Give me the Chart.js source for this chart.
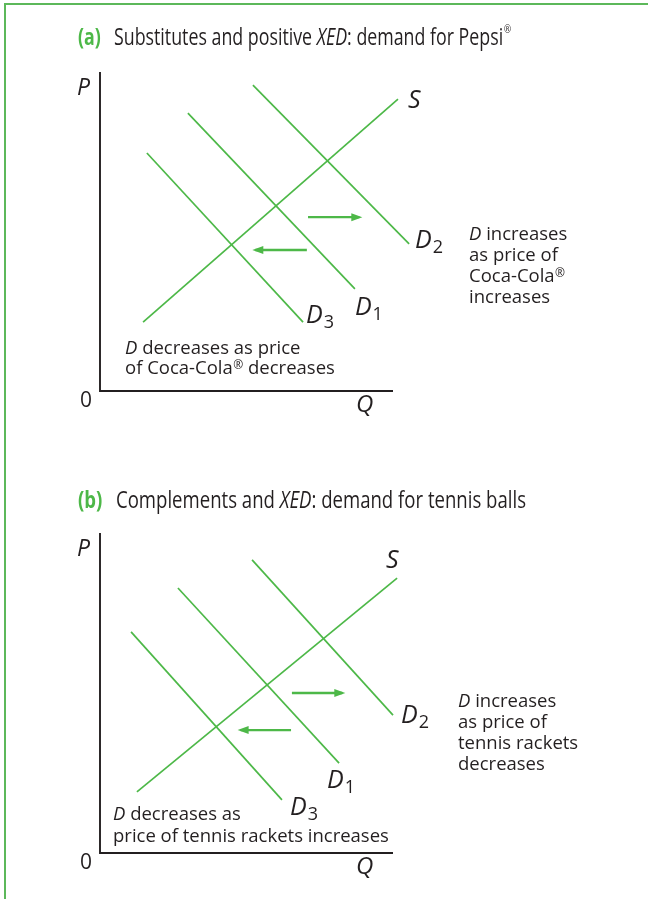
<!DOCTYPE html>
<html>
<head>
<meta charset="utf-8">
<script src="https://cdn.jsdelivr.net/npm/chart.js@4.4.1/dist/chart.umd.min.js"></script>
<style>
  html, body { margin: 0; padding: 0; background: #fff; }
  body { width: 648px; height: 899px; position: relative; overflow: hidden; }
  #frame { position: absolute; left: 4px; top: 3px; right: 0; bottom: 0;
           border-left: 2px solid #5cb85a; border-top: 2px solid #5cb85a; }
  canvas { position: absolute; left: 0; }
  #chartA { top: 0; }
  #chartB { top: 450px; }
</style>
</head>
<body>
<div id="frame"></div>
<canvas id="chartA" width="648" height="450"></canvas>
<canvas id="chartB" width="648" height="449"></canvas>
<script>
// axis ranges (same units for both diagrams)
const qMax = 10;
const pMax = 10;

// (a) substitutes: demand for Pepsi
const supplyQA = [1.47, 10.17];
const supplyPA = [2.16, 9.15];
const d1QA = [3.0, 8.7];
const d1PA = [8.71, 3.2];
const d2QA = [5.22, 10.55];
const d2PA = [9.59, 4.61];
const d3QA = [1.6, 6.93];
const d3PA = [7.46, 2.16];
const shiftRightQA = [7.1, 8.85];
const shiftRightPA = [5.45, 5.45];
const shiftLeftQA = [7.06, 5.3];
const shiftLeftPA = [4.42, 4.42];

// (b) complements: demand for tennis balls
const supplyQB = [1.26, 10.14];
const supplyPB = [1.91, 8.59];
const d1QB = [2.66, 8.16];
const d1PB = [8.28, 2.81];
const d2QB = [5.19, 10.0];
const d2PB = [9.16, 4.31];
const d3QB = [1.06, 6.21];
const d3PB = [6.91, 1.66];
const shiftRightQB = [6.55, 8.27];
const shiftRightPB = [5.0, 5.0];
const shiftLeftQB = [6.52, 4.8];
const shiftLeftPB = [3.84, 3.84];

const GREEN = "#4db848";
const INK = "#231f20";
const FONT = '"Open Sans"';

const toPoints = (qs, ps) => qs.map((q, i) => ({ x: q, y: ps[i] }));

const lineSet = (tag, qs, ps, extra) => Object.assign({
    tag: tag,
    data: toPoints(qs, ps),
    showLine: true,
    borderColor: GREEN,
    borderWidth: 1.7,
    pointRadius: 0,
    clip: false,
}, extra || {});

const axisSet = {
    tag: "axes",
    data: [{ x: 0, y: pMax }, { x: 0, y: 0 }, { x: qMax, y: 0 }],
    showLine: true,
    borderColor: INK,
    borderWidth: 1.9,
    pointRadius: 0,
    clip: false,
};

// draws a row of text pieces, each with its own font
const drawRuns = (ctx, runs, x, y) => {
    runs.forEach((r) => {
        ctx.font = r.font;
        ctx.fillStyle = r.color || INK;
        ctx.fillText(r.text, x + (r.dx || 0), y + (r.dy || 0));
        x += (r.dx || 0) + ctx.measureText(r.text).width;
    });
    return x;
};

const body = (t) => ({ text: t, font: `18.5px ${FONT}` });
const bodyIt = (t) => ({ text: t, font: `italic 18.5px ${FONT}` });
const reg = { text: "\u00ae", font: `12px ${FONT}`, dy: -5, dx: 0.5 };

const titleFont = `23px ${FONT}`;
const titleIt = `italic 23px ${FONT}`;

const arrowPlugin = {
    id: "arrows",
    afterDatasetsDraw(chart) {
        const ctx = chart.ctx;
        chart.data.datasets.forEach((ds, i) => {
            if (!ds.arrow) return;
            const pts = chart.getDatasetMeta(i).data;
            const a = pts[pts.length - 2];
            const b = pts[pts.length - 1];
            const ang = Math.atan2(b.y - a.y, b.x - a.x);
            const tipX = b.x + Math.cos(ang) * 3;
            const tipY = b.y + Math.sin(ang) * 3;
            ctx.save();
            ctx.translate(tipX, tipY);
            ctx.rotate(ang);
            ctx.beginPath();
            ctx.moveTo(0, 0);
            ctx.lineTo(-11, -4);
            ctx.lineTo(-11, 4);
            ctx.closePath();
            ctx.fillStyle = GREEN;
            ctx.fill();
            ctx.restore();
        });
    },
};

const textPlugin = {
    id: "texts",
    afterDraw(chart) {
        const ctx = chart.ctx;
        const cfg = chart.options.plugins.texts;
        const area = chart.chartArea;
        ctx.save();
        ctx.textBaseline = "alphabetic";

        // title, squeezed to the narrow face of the original
        ctx.save();
        ctx.translate(cfg.title.x, cfg.title.y);
        let w = 0;
        cfg.title.runs.forEach((r) => { ctx.font = r.font; w += ctx.measureText(r.text).width + (r.dx || 0); });
        const sx = cfg.title.width / w;
        ctx.scale(sx, 1);
        ctx.font = `bold 23px ${FONT}`;
        ctx.fillStyle = GREEN;
        ctx.fillText(cfg.title.tag, (cfg.title.tagX - cfg.title.x) / sx, 0);
        drawRuns(ctx, cfg.title.runs, 0, 0);
        ctx.restore();

        // axis letters
        drawRuns(ctx, [{ text: "P", font: `italic 23px ${FONT}` }], area.left - 23, area.top + 23);
        drawRuns(ctx, [{ text: "0", font: `21px ${FONT}` }], area.left - 20, area.bottom + 16);
        drawRuns(ctx, [{ text: "Q", font: `italic 24px ${FONT}` }], area.right - 37, area.bottom + 21);

        // curve labels, placed from the end of each curve
        cfg.curveLabels.forEach((lab) => {
            const i = chart.data.datasets.findIndex((d) => d.tag === lab.tag);
            const pts = chart.getDatasetMeta(i).data;
            const p = pts[pts.length - 1];
            const runs = [{ text: lab.main, font: `italic 25px ${FONT}` }];
            if (lab.sub) runs.push({ text: lab.sub, font: `18px ${FONT}`, dy: 5, dx: 1 });
            drawRuns(ctx, runs, p.x + lab.dx, p.y + lab.dy);
        });

        // notes
        cfg.notes.forEach((n) => {
            n.lines.forEach((runs, k) => drawRuns(ctx, runs, n.x, n.y + k * n.step));
        });
        ctx.restore();
    },
};

const makeChart = (id, datasets, padding, texts) => new Chart(document.getElementById(id), {
    type: "scatter",
    data: { datasets: datasets },
    options: {
        responsive: false,
        animation: false,
        layout: { padding: padding },
        scales: {
            x: { type: "linear", min: 0, max: qMax, display: false },
            y: { type: "linear", min: 0, max: pMax, display: false },
        },
        plugins: { legend: { display: false }, tooltip: { enabled: false }, texts: texts },
    },
    plugins: [arrowPlugin, textPlugin],
});

makeChart("chartA", [
    axisSet,
    lineSet("S", supplyQA, supplyPA),
    lineSet("D1", d1QA, d1PA),
    lineSet("D2", d2QA, d2PA),
    lineSet("D3", d3QA, d3PA),
    lineSet("right", shiftRightQA, shiftRightPA, { borderWidth: 2.4, arrow: true }),
    lineSet("left", shiftLeftQA, shiftLeftPA, { borderWidth: 2.4, arrow: true }),
], { left: 100, top: 72, right: 255, bottom: 59 }, {
    title: {
        tag: "(a)", tagX: 78, x: 114, y: 45, width: 397,
        runs: [
            { text: "Substitutes and positive ", font: titleFont },
            { text: "XED", font: titleIt },
            { text: ": demand for Pepsi", font: titleFont },
            { text: "\u00ae", font: `11px ${FONT}`, dy: -12, dx: 1 },
        ],
    },
    curveLabels: [
        { tag: "S", main: "S", dx: 10, dy: 9 },
        { tag: "D2", main: "D", sub: "2", dx: 6, dy: 4 },
        { tag: "D1", main: "D", sub: "1", dx: 0, dy: 26 },
        { tag: "D3", main: "D", sub: "3", dx: 3, dy: 1 },
    ],
    notes: [
        { x: 125, y: 354, step: 20, lines: [
            [bodyIt("D"), body(" decreases as price")],
            [body("of Coca-Cola"), reg, body(" decreases")],
        ] },
        { x: 469, y: 240, step: 21, lines: [
            [bodyIt("D"), body(" increases")],
            [body("as price of")],
            [body("Coca-Cola"), reg],
            [body("increases")],
        ] },
    ],
});

makeChart("chartB", [
    axisSet,
    lineSet("S", supplyQB, supplyPB),
    lineSet("D1", d1QB, d1PB),
    lineSet("D2", d2QB, d2PB),
    lineSet("D3", d3QB, d3PB),
    lineSet("right", shiftRightQB, shiftRightPB, { borderWidth: 2.4, arrow: true }),
    lineSet("left", shiftLeftQB, shiftLeftPB, { borderWidth: 2.4, arrow: true }),
], { left: 100, top: 83, right: 255, bottom: 46 }, {
    title: {
        tag: "(b)", tagX: 78, x: 116, y: 58, width: 410,
        runs: [
            { text: "Complements and ", font: titleFont },
            { text: "XED", font: titleIt },
            { text: ": demand for tennis balls", font: titleFont },
        ],
    },
    curveLabels: [
        { tag: "S", main: "S", dx: -11, dy: -10 },
        { tag: "D2", main: "D", sub: "2", dx: 8, dy: 8 },
        { tag: "D1", main: "D", sub: "1", dx: -12, dy: 25 },
        { tag: "D3", main: "D", sub: "3", dx: 8, dy: 15 },
    ],
    notes: [
        { x: 113, y: 370, step: 22, lines: [
            [bodyIt("D"), body(" decreases as")],
            [body("price of tennis rackets increases")],
        ] },
        { x: 458, y: 257, step: 21, lines: [
            [bodyIt("D"), body(" increases")],
            [body("as price of")],
            [body("tennis rackets")],
            [body("decreases")],
        ] },
    ],
});
</script>
</body>
</html>
